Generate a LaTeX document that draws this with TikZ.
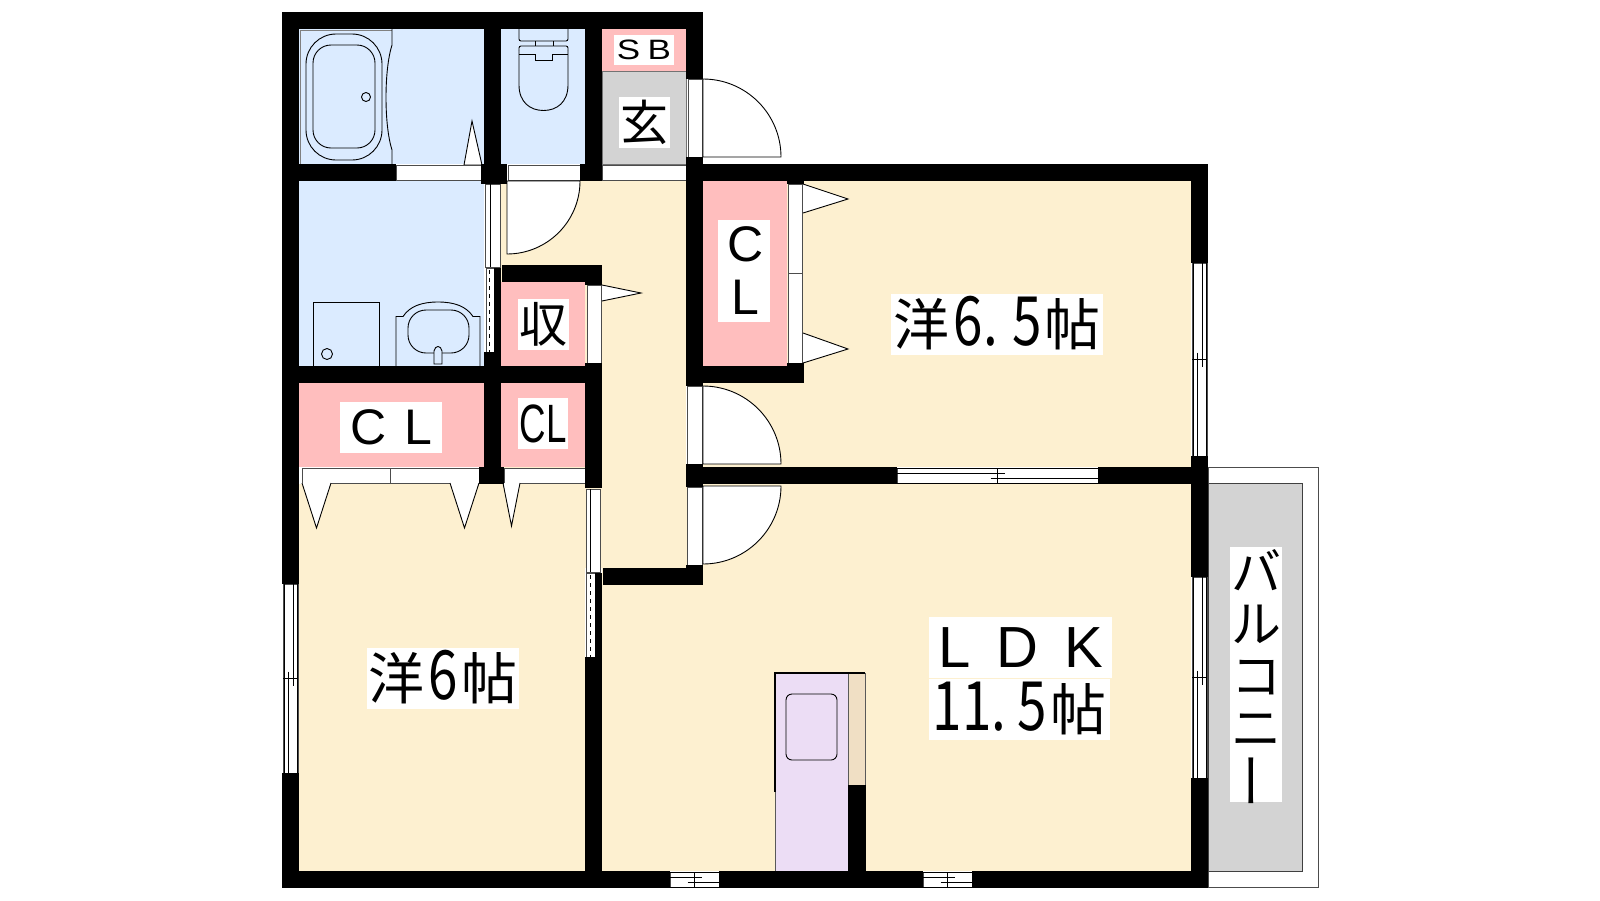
\documentclass[tikz,border=0pt]{standalone}
\usepackage{fontspec}
\setmainfont{Liberation Sans}
\newfontfamily\jpfont{Noto Sans CJK JP}
\usepackage{xcolor}
\definecolor{floorcol}{HTML}{FDF0D0}
\definecolor{wetcol}{HTML}{DBEBFF}
\definecolor{storecol}{HTML}{FFBEBE}
\definecolor{hardcol}{HTML}{D3D3D3}
\definecolor{kitcol}{HTML}{ECDDF5}
\definecolor{tancol}{HTML}{F0DFC4}
\tikzset{%
  wall/.style={fill=black},
  leaf/.style={draw=black, fill=white, line width=.9pt},
  fitting/.style={draw=black, line width=.9pt},
  frame/.style={draw=black!70, fill=white, line width=1pt},
  rail/.style={draw=black, line width=.9pt},
  lbl/.style={fill=white, inner sep=0pt, align=center},
}
% jp text at given size
\newcommand{\fs}[1]{\fontsize{#1}{#1}\selectfont}
\newcommand{\dg}[1]{\smash{\scalebox{.78}[1]{\fs{68}#1}}}
% windows: vertical x,y1,y2  and horizontal x1,x2,y
\newcommand{\vwin}[3]{%
  \pgfmathsetmacro{\ym}{(#2+#3)/2}
  \draw[frame] (#1,#2) rectangle (#1+15,#3);
  \draw[rail] (#1+1,#2)--(#1+1,#3) (#1+14.5,#2)--(#1+14.5,#3);
  \draw[rail] (#1+10,#2)--(#1+10,\ym+7) (#1+5,\ym-7)--(#1+5,#3);
  \draw[rail] (#1,\ym)--(#1+15,\ym);
}
\newcommand{\hwin}[3]{%
  \pgfmathsetmacro{\xm}{(#1+#2)/2}
  \draw[frame] (#1,#3) rectangle (#2,#3+15);
  \draw[rail] (#1,#3+.5)--(#2,#3+.5) (#1,#3+15)--(#2,#3+15);
  \draw[rail] (#1,#3+5)--(\xm+7,#3+5) (\xm-7,#3+10)--(#2,#3+10);
  \draw[rail] (\xm,#3)--(\xm,#3+15);
}
\begin{document}
\begin{tikzpicture}[x=1pt,y=-1pt]
\useasboundingbox (0,0) rectangle (1600,900);
% balcony
\draw[draw=black!70, line width=1pt, fill=white] (1208,467) rectangle (1318,887);
\filldraw[draw=black!75, fill=hardcol, line width=1pt] (1208,483) rectangle (1302,871);
% floors
\fill[floorcol] (703,181) rectangle (1191,467);
\fill[floorcol] (602,484) rectangle (1191,871);
\fill[floorcol] (299,484) rectangle (585,871);
\fill[floorcol] (501,181) rectangle (686,568);
\fill[wetcol] (299,29) rectangle (484,164);
\fill[wetcol] (501,29) rectangle (585,164);
\fill[wetcol] (299,181) rectangle (484,366);
\fill[storecol] (602,29) rectangle (686,71);
\filldraw[draw=black!55, fill=hardcol, line width=.8pt] (602,71.5) rectangle (686,164);
\fill[storecol] (703,181) rectangle (787,366);
\fill[storecol] (501,282) rectangle (585,366);
\fill[storecol] (299,383) rectangle (484,467);
\fill[storecol] (501,383) rectangle (585,467);
% bath
\draw[draw=black!50, line width=.9pt] (392,30) -- (300,30) -- (300,164);
\draw[fitting] (392,29) -- (392,45) .. controls (384,70) and (384,125) .. (392,150) -- (392,164);
\draw[fitting, rounded corners=30pt] (306,34) rectangle (382,160);
\draw[fitting, rounded corners=18pt] (313,45) rectangle (375,148);
\draw[fitting] (366,97) circle (4.5);
\filldraw[leaf] (464,165) -- (472,121) -- (482,165) -- cycle;
% toilet
\draw[fitting, rounded corners=2pt] (519,29) -- (519,41) -- (568,41) -- (568,29);
\draw[fitting] (535,41) -- (535,46) (553,41) -- (553,46);
\draw[fitting, rounded corners=2pt] (519,50) -- (519,46) -- (568,46) -- (568,50);
\draw[fitting] (519,50) -- (519,85) .. controls (519,102) and (530,110.5) .. (543.5,110.5) .. controls (557,110.5) and (568,102) .. (568,85) -- (568,50);
\draw[fitting] (519,54) -- (535,54) -- (535,60) -- (552,60) -- (552,54) -- (568,54);
% wash room
\draw[fitting] (313,366) -- (313,302) -- (379,302) -- (379,366);
\draw[fitting] (327,354) circle (5.5);
\draw[fitting] (396,366) -- (396,316.5) -- (403,316.5) .. controls (410,306) and (422,302) .. (438,302) .. controls (454,302) and (466,306) .. (473,316.5) -- (480,316.5) -- (480,366);
\draw[fitting, rounded corners=18pt] (408,310) rectangle (469,353);
\filldraw[draw=black, fill=wetcol, line width=.9pt] (434,364) -- (434,351) .. controls (435,345) and (441,345) .. (442,351) -- (442,364) -- cycle;
% kitchen
\fill[kitcol] (775,673) rectangle (848,871);
\fill[tancol] (848,673) rectangle (865,785);
\draw[draw=black!65, line width=.9pt] (775,792) -- (775,871) (848,673) -- (848,785) (865,673) -- (865,785);
\draw[line width=2pt] (775,792) -- (775,673) -- (865,673);
\draw[fitting, rounded corners=6pt] (786,694) rectangle (837,760);
% door frames
\draw[frame] (396,165) rectangle (481,180);
\draw[frame] (508,165) rectangle (580,180);
\draw[frame] (602,165) rectangle (686,180);
\draw[frame] (688,79) rectangle (702,157);
\draw[frame] (687,386) rectangle (702,464);
\draw[frame] (687,487) rectangle (702,565);
\draw[frame] (788,184) rectangle (802,273);
\draw[frame] (788,273) rectangle (802,363);
\draw[frame] (587,285) rectangle (601,363);
\draw[frame] (302,468) rectangle (390,483);
\draw[frame] (390,468) rectangle (479,483);
\draw[frame] (504,468) rectangle (587,483);
% door leaves
\filldraw[leaf] (703,79) arc (-90:0:78) -- (703,157) -- cycle;
\filldraw[leaf] (703,386) arc (-90:0:78) -- (703,464) -- cycle;
\filldraw[leaf] (781,486) arc (0:90:78) -- (703,486) -- cycle;
\filldraw[leaf] (580,181) arc (0:90:73) -- (507,181) -- cycle;
\filldraw[leaf] (803,184) -- (848,199) -- (803,213);
\filldraw[leaf] (803,333) -- (848,349) -- (803,363);
\filldraw[leaf] (602,285) -- (641,293) -- (602,301);
\filldraw[leaf] (302,483) -- (316.5,528) -- (331,483);
\filldraw[leaf] (450,483) -- (464.5,528) -- (479,483);
\filldraw[leaf] (503,483) -- (511.5,526) -- (520,483);
% sliding doors
\draw[frame] (485.5,184) rectangle (500,267);
\draw[rail] (490,184) -- (490,267);
\draw[frame] (486,268) rectangle (494,352);
\draw[rail, dash pattern=on 4pt off 4pt] (489.5,270) -- (489.5,352);
\draw[frame] (586,489) rectangle (600,572);
\draw[rail] (590.5,489) -- (590.5,572);
\draw[frame] (586,573) rectangle (595,657);
\draw[rail, dash pattern=on 4pt off 4pt] (590.5,575) -- (590.5,657);
% windows
\vwin{283}{584}{773}
\vwin{1192}{263}{456}
\vwin{1192}{577}{778}
\hwin{897}{1098}{468}
\hwin{670}{719}{872}
\hwin{923}{972}{872}
% walls
\fill[wall] (282,12) rectangle (703,29);
\fill[wall] (282,12) rectangle (299,584);
\fill[wall] (282,773) rectangle (299,888);
\fill[wall] (282,871) rectangle (670,888);
\fill[wall] (719,871) rectangle (923,888);
\fill[wall] (972,871) rectangle (1208,888);
\fill[wall] (1191,164) rectangle (1208,263);
\fill[wall] (1191,456) rectangle (1208,577);
\fill[wall] (1191,778) rectangle (1208,888);
\fill[wall] (686,164) rectangle (1208,181);
\fill[wall] (686,12) rectangle (703,79);
\fill[wall] (686,157) rectangle (703,386);
\fill[wall] (686,464) rectangle (703,487);
\fill[wall] (686,565) rectangle (703,585);
\fill[wall] (686,366) rectangle (804,383);
\fill[wall] (787,164) rectangle (804,184);
\fill[wall] (787,363) rectangle (804,383);
\fill[wall] (686,467) rectangle (897,484);
\fill[wall] (1098,467) rectangle (1208,484);
\fill[wall] (603,568) rectangle (703,585);
\fill[wall] (484,12) rectangle (501,164);
\fill[wall] (481,164) rectangle (507,184);
\fill[wall] (494,268) rectangle (501,352);
\fill[wall] (484,352) rectangle (501,484);
\fill[wall] (479,467) rectangle (504,484);
\fill[wall] (585,12) rectangle (602,164);
\fill[wall] (580,164) rectangle (602,181);
\fill[wall] (282,164) rectangle (396,181);
\fill[wall] (502,265) rectangle (602,282);
\fill[wall] (585,265) rectangle (602,285);
\fill[wall] (585,363) rectangle (602,488);
\fill[wall] (595,573) rectangle (602,657);
\fill[wall] (585,657) rectangle (602,888);
\fill[wall] (282,366) rectangle (602,383);
\fill[wall] (282,467) rectangle (299,484);
\fill[wall] (848,785) rectangle (866,871);
% labels
\node[lbl, minimum width=60pt, minimum height=30pt, font=\fs{28}] (sb) at (644,50) {\scalebox{1.25}[1]{S\hspace{6pt}B}};
\node[lbl, minimum width=51pt, minimum height=51pt, font=\jpfont\fs{48}] (entry) at (644.5,122.5) {玄};
\node[lbl, minimum width=52pt, minimum height=102pt, font=\fs{50}] (clA) at (744,271) {\hspace*{3pt}C\\[3pt]\hspace*{3pt}L};
\node[lbl, minimum width=51pt, minimum height=51pt, font=\jpfont\fs{48}] (store) at (543.5,324.5) {収};
\node[lbl, minimum width=102pt, minimum height=51pt, font=\fs{50}] (clB) at (391,427.5) {C\hspace{18pt}L};
\node[lbl, minimum width=50pt, minimum height=51pt, font=\fs{54}] (clC) at (543,423.5) {\scalebox{.68}[1]{CL}};
\node[lbl, minimum width=212pt, minimum height=61pt, font=\jpfont\fs{56}] (roomA) at (997,324.5) {洋\hspace{4pt}\dg{6.\hspace{19pt}5}\hspace{2pt}帖};
\node[lbl, minimum width=152pt, minimum height=61pt, font=\jpfont\fs{56}] (roomB) at (443,678) {洋\hspace{4pt}\dg{6}\hspace{4pt}帖};
\node[lbl, minimum width=183pt, minimum height=61pt, font=\fs{58}] (ldk) at (1020.5,647.5) {L\hspace{26pt}D\hspace{26pt}K};
\node[lbl, minimum width=181pt, minimum height=61pt, font=\jpfont\fs{56}] (ldkB) at (1019.5,709.5) {\dg{11.\hspace{15pt}5}\hspace{3pt}帖};
\node[lbl, minimum width=52pt, minimum height=255pt, font=\jpfont\fontsize{50}{52}\selectfont] (balcony) at (1256,674.5) {バ\\ル\\コ\\ニ\\\hspace*{8pt}\smash{\raisebox{7pt}{\rotatebox[origin=c]{90}{\scalebox{1.15}[1]{ー}}}}};
\end{tikzpicture}
\end{document}
